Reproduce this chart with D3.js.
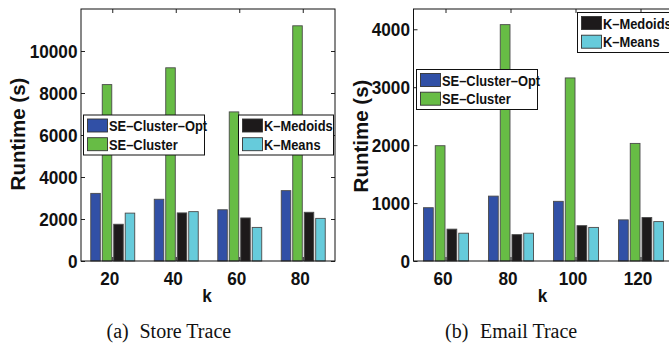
<!DOCTYPE html>
<html>
<head>
<meta charset="utf-8">
<script src="https://cdn.jsdelivr.net/npm/d3@7"></script>
<style>
  body { margin: 0; background: #fff; }
  svg { display: block; }
</style>
</head>
<body>
<svg id="chart" width="669" height="346"></svg>
<script>
// categories / series
const seriesNames = ["SE–Cluster–Opt", "SE–Cluster", "K–Medoids", "K–Means"];
const seriesColors = ["#3150a6", "#67bc45", "#1d1a1b", "#66cbdb"];

const storeK = ["20", "40", "60", "80"];
const storeOpt = [3220, 2940, 2440, 3350];
const storeCluster = [8400, 9200, 7100, 11200];
const storeMedoids = [1750, 2290, 2050, 2320];
const storeMeans = [2280, 2350, 1600, 2030];
const storeTicks = [0, 2000, 4000, 6000, 8000, 10000];

const emailK = ["60", "80", "100", "120"];
const emailOpt = [920, 1120, 1030, 710];
const emailCluster = [1990, 4080, 3160, 2030];
const emailMedoids = [550, 455, 610, 750];
const emailMeans = [480, 480, 580, 680];
const emailTicks = [0, 1000, 2000, 3000, 4000];

const sans = "'Liberation Sans', Arial, Helvetica, sans-serif";
const serif = "'Liberation Serif', 'Times New Roman', serif";

const svg = d3.select("#chart");

// text helper, squeezed a little horizontally like the original
function label(g, x, y, str, size, sx, anchor, rot) {
  return g.append("text")
    .attr("transform", `translate(${x},${y})` + (rot ? ` rotate(${rot})` : "") + ` scale(${sx},1)`)
    .attr("text-anchor", anchor || "start")
    .style("font-family", sans)
    .style("font-weight", "bold")
    .style("font-size", size + "px")
    .style("fill", "#111")
    .text(str);
}

const panels = [
  {
    cats: storeK, series: [storeOpt, storeCluster, storeMedoids, storeMeans],
    ticks: storeTicks, ymax: 12000, left: 81, right: 335, ylabX: 25, ylabY: 134,
    leg1: [83.5, 115], leg2: [238.5, 115], leg2w: 95,
    cap: ["(a)", "Store Trace"], capX: [106.5, 139.5]
  },
  {
    cats: emailK, series: [emailOpt, emailCluster, emailMedoids, emailMeans],
    ticks: emailTicks, ymax: 4350, left: 413.5, right: 673.5, ylabX: 368, ylabY: 136,
    leg1: [416.5, 69.5], leg2: [577.5, 12.5], leg2w: 97,
    cap: ["(b)", "Email Trace"], capX: [445, 480]
  }
];

const yTop = 9, yBottom = 261;

panels.forEach(p => {
  const g = svg.append("g");
  const x0 = d3.scaleBand().domain(p.cats).range([p.left, p.right]);
  const x1 = d3.scaleBand().domain(d3.range(4)).range([0, x0.bandwidth()])
    .paddingInner(0.17).paddingOuter(0.85);
  const y = d3.scaleLinear().domain([0, p.ymax]).range([yBottom, yTop]);

  // bars
  p.cats.forEach((c, i) => {
    g.selectAll(null)
      .data(p.series.map((s, j) => ({ j: j, v: s[i] })))
      .join("rect")
      .attr("x", d => x0(c) + x1(d.j))
      .attr("y", d => y(d.v))
      .attr("width", x1.bandwidth())
      .attr("height", d => y(0) - y(d.v))
      .attr("fill", d => seriesColors[d.j])
      .attr("stroke", "#4a4a4a")
      .attr("stroke-width", 0.9);
  });

  // inward ticks on all four sides
  const ya = d3.axisLeft(y).tickValues(p.ticks).tickSize(-4).tickFormat("");
  const yr = d3.axisRight(y).tickValues(p.ticks).tickSize(-4).tickFormat("");
  const xt = d3.axisTop(x0).tickSize(-4).tickFormat("");
  const xb = d3.axisBottom(x0).tickSize(-4).tickFormat("");
  [[ya, `translate(${p.left},0)`], [yr, `translate(${p.right},0)`],
   [xt, `translate(0,${yTop})`], [xb, `translate(0,${yBottom})`]].forEach(([ax, tr]) => {
    const a = g.append("g").attr("transform", tr).call(ax);
    a.select(".domain").remove();
    a.selectAll("line").attr("stroke", "#222");
  });

  g.append("rect")
    .attr("x", p.left).attr("y", yTop)
    .attr("width", p.right - p.left).attr("height", yBottom - yTop)
    .attr("fill", "none").attr("stroke", "#111").attr("stroke-width", 1);

  // tick labels
  p.ticks.forEach(t => {
    label(g, p.left - 3.5, y(t) + 6.5, String(t), 18.5, 0.93, "end");
  });
  p.cats.forEach(c => {
    label(g, x0(c) + x0.bandwidth() / 2 - 3, 285, c, 18.5, 0.93, "middle");
  });

  // axis titles
  label(g, (p.left + p.right) / 2 - 1, 302, "k", 18.5, 0.93, "middle");
  label(g, p.ylabX, p.ylabY, "Runtime (s)", 20.5, 1, "middle", -90);

  // legends
  const legends = [[p.leg1, [0, 1], 121], [p.leg2, [2, 3], p.leg2w]];
  legends.forEach(([pos, idx, w]) => {
    const lg = g.append("g").attr("transform", `translate(${pos[0]},${pos[1]})`);
    lg.append("rect").attr("width", w).attr("height", 40)
      .attr("fill", "#fff").attr("stroke", "#111").attr("stroke-width", 1);
    idx.forEach((j, r) => {
      lg.append("rect")
        .attr("x", 4).attr("y", 4 + r * 18.7)
        .attr("width", 20).attr("height", 13)
        .attr("fill", seriesColors[j]).attr("stroke", "#333").attr("stroke-width", 0.9);
      label(lg, 25.5, 16 + r * 18.7, seriesNames[j], 15, 0.86, "start");
    });
  });

  // caption
  [0, 1].forEach(k => {
    g.append("text")
      .attr("x", p.capX[k]).attr("y", 338)
      .style("font-family", serif)
      .style("font-size", "20px")
      .style("fill", "#111")
      .text(p.cap[k]);
  });
});
</script>
</body>
</html>
